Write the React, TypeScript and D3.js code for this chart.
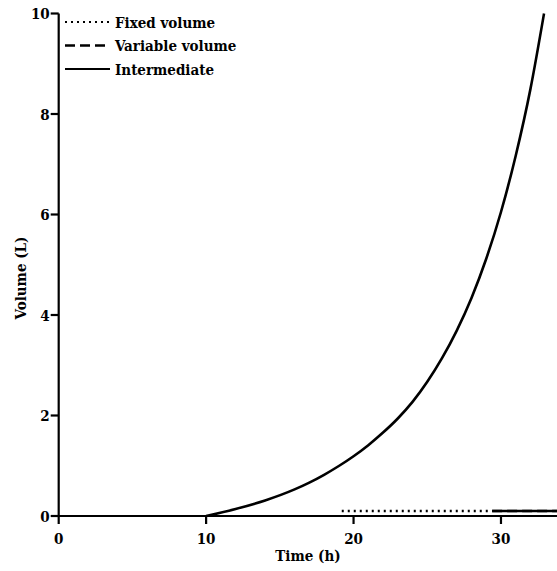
import React from "react";
import * as d3 from "d3";

const W = 557;
const H = 571;

// Intermediate: growth curve (time h, volume L)
const interTime = [10, 12, 14, 16, 17, 18, 19, 20, 21, 22, 23, 24, 25, 26, 27, 28, 29, 30, 31, 32, 32.92];
const interVol = [0, 0.14, 0.31, 0.53, 0.665, 0.82, 0.995, 1.19, 1.41, 1.66, 1.94, 2.27, 2.67, 3.14, 3.69, 4.34, 5.12, 6.05, 7.17, 8.5, 10.0];

// Fixed volume: flat dotted segment
const fixedTime = [19.2, 29.2];
const fixedVol = [0.1, 0.1];

// Variable volume: flat segment at the end
const varTime = [29.4, 33.8];
const varVol = [0.1, 0.1];

const xTicks = [0, 10, 20, 30];
const yTicks = [0, 2, 4, 6, 8, 10];

const legendLabels = ["Fixed volume", "Variable volume", "Intermediate"];

const FONT = '"DejaVu Serif Condensed", "DejaVu Serif", serif';

export default function App() {
  const x = d3.scaleLinear().domain([0, 33.8]).range([58.7, 557]);
  const y = d3.scaleLinear().domain([0, 10]).range([516, 13.5]);

  const line = d3
    .line<[number, number]>()
    .x((d) => x(d[0]))
    .y((d) => y(d[1]))
    .curve(d3.curveMonotoneX);

  const interPts = interTime.map((t, i) => [t, interVol[i]] as [number, number]);
  const fixedPts = fixedTime.map((t, i) => [t, fixedVol[i]] as [number, number]);
  const varPts = varTime.map((t, i) => [t, varVol[i]] as [number, number]);

  const legendStyles = [
    { dash: "2,4", w: 2.2 },
    { dash: "10,5", w: 2.6 },
    { dash: "none", w: 2.2 },
  ];

  const txt: React.CSSProperties = {
    fontFamily: FONT,
    fontWeight: 700,
    fontSize: "15px",
    fontStretch: "condensed",
  };

  return (
    <svg
      width={W}
      height={H}
      style={{ position: "absolute", left: 0, top: 0, background: "#fff", fontFamily: FONT }}
    >
      {/* series */}
      <path d={line(fixedPts) || ""} fill="none" stroke="#000" strokeWidth={2.4} strokeDasharray="2,4" />
      <path d={line(varPts) || ""} fill="none" stroke="#000" strokeWidth={2.6} strokeDasharray="10,5" />
      <path d={line(varPts) || ""} fill="none" stroke="#000" strokeWidth={2.4} />
      <path d={line(interPts) || ""} fill="none" stroke="#000" strokeWidth={2.6} />

      {/* axes */}
      <line x1={x(0)} x2={W} y1={y(0)} y2={y(0)} stroke="#000" strokeWidth={2.2} />
      <line x1={x(0)} x2={x(0)} y1={y(0) + 1} y2={y(10)} stroke="#000" strokeWidth={2.2} />
      {xTicks.map((t) => (
        <g key={"x" + t}>
          <line x1={x(t)} x2={x(t)} y1={y(0)} y2={y(0) + 8} stroke="#000" strokeWidth={2.2} />
          <text x={x(t)} y={544} textAnchor="middle" style={txt}>
            {t}
          </text>
        </g>
      ))}
      {yTicks.map((t) => (
        <g key={"y" + t}>
          <line x1={x(0) - 8} x2={x(0)} y1={y(t)} y2={y(t)} stroke="#000" strokeWidth={2.2} />
          <text x={x(0) - 9} y={y(t) + 5.5} textAnchor="end" style={txt}>
            {t}
          </text>
        </g>
      ))}
      <text x={308} y={561} textAnchor="middle" style={txt}>
        Time (h)
      </text>
      <text transform={`translate(26, ${278}) rotate(-90)`} textAnchor="middle" style={txt}>
        Volume (L)
      </text>

      {/* legend */}
      {legendLabels.map((lab, i) => {
        const cy = 22 + i * 23.5;
        const s = legendStyles[i];
        return (
          <g key={lab}>
            <line x1={65} x2={110} y1={cy} y2={cy} stroke="#000" strokeWidth={s.w} strokeDasharray={s.dash} />
            <text x={115} y={cy + 5.5} style={txt}>
              {lab}
            </text>
          </g>
        );
      })}
    </svg>
  );
}
